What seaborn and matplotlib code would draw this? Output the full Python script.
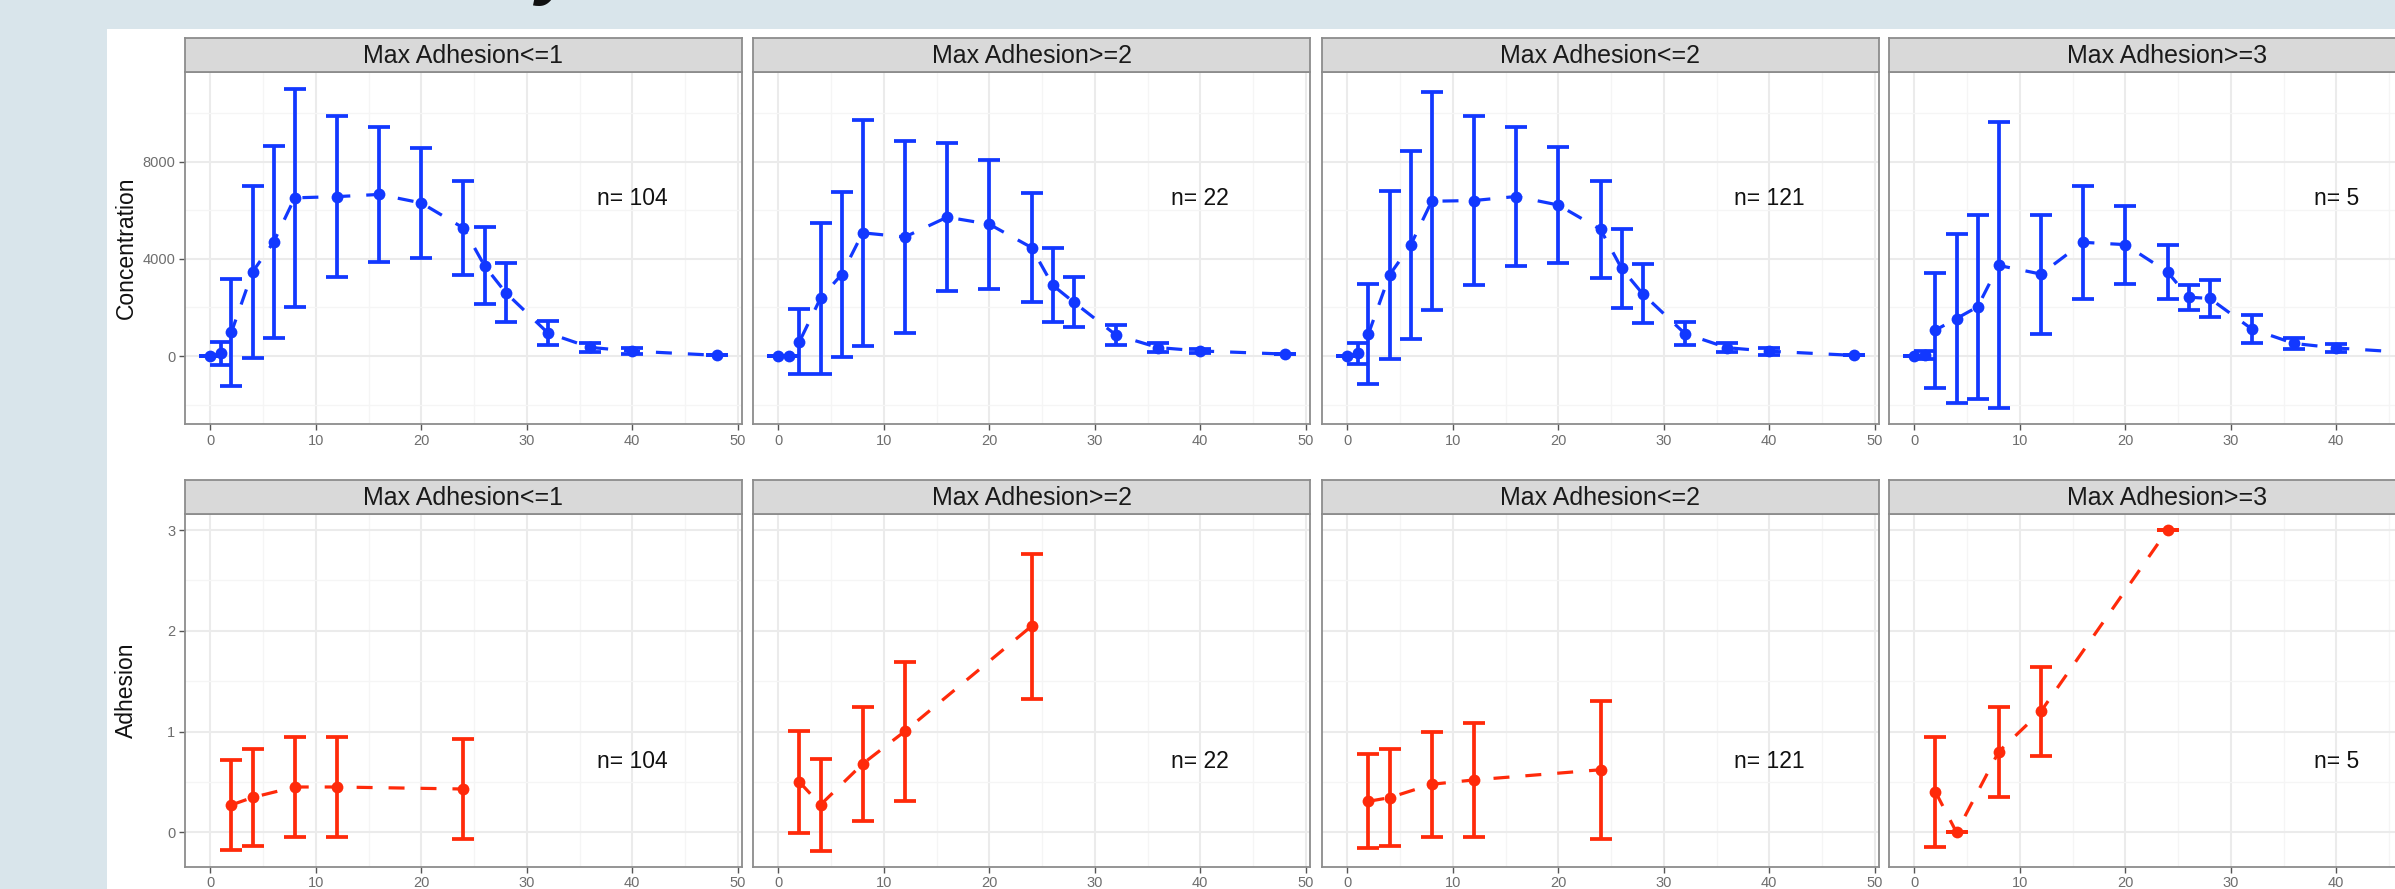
import numpy as np
import pandas as pd
import matplotlib
matplotlib.use("Agg")
import matplotlib.pyplot as plt
from matplotlib.patches import Rectangle
from matplotlib.ticker import MultipleLocator, FixedLocator
import seaborn as sns

# ---------------- data ----------------
groups = ["Max Adhesion<=1", "Max Adhesion>=2", "Max Adhesion<=2", "Max Adhesion>=3"]
n_labels = ["n= 104", "n= 22", "n= 121", "n= 5"]

time_conc = [0, 1, 2, 4, 6, 8, 12, 16, 20, 24, 26, 28, 32, 36, 40, 48]
conc_mean_le1 = [0, 110, 980, 3460, 4690, 6510, 6560, 6650, 6300, 5265, 3710, 2610, 950, 355, 205, 30]
conc_sd_le1 = [0, 465, 2200, 3530, 3960, 4490, 3310, 2775, 2270, 1925, 1580, 1220, 480, 200, 115, 0]
conc_mean_ge2 = [0, 0, 590, 2380, 3355, 5070, 4900, 5715, 5425, 4466, 2918, 2220, 870, 350, 210, 82]
conc_sd_ge2 = [0, 0, 1335, 3100, 3405, 4650, 3950, 3035, 2660, 2247, 1521, 1042, 410, 180, 100, 0]
conc_mean_le2 = [0, 110, 910, 3335, 4562, 6370, 6400, 6565, 6215, 5210, 3605, 2560, 925, 343, 200, 27]
conc_sd_le2 = [0, 445, 2070, 3450, 3877, 4490, 3473, 2843, 2377, 1993, 1610, 1212, 466, 192, 137, 0]
conc_mean_ge3 = [0, 40, 1068, 1545, 2025, 3730, 3373, 4680, 4585, 3460, 2420, 2373, 1110, 518, 333, 110]
conc_sd_ge3 = [0, 150, 2370, 3460, 3775, 5885, 2445, 2336, 1603, 1096, 520, 774, 589, 226, 158, 60]

time_adh = [2, 4, 8, 12, 24]
adh_mean_le1 = [0.272, 0.346, 0.45, 0.45, 0.43]
adh_sd_le1 = [0.447, 0.478, 0.50, 0.50, 0.50]
adh_mean_ge2 = [0.50, 0.273, 0.68, 1.003, 2.046]
adh_sd_ge2 = [0.51, 0.455, 0.567, 0.692, 0.72]
adh_mean_le2 = [0.308, 0.344, 0.477, 0.52, 0.621]
adh_sd_le2 = [0.467, 0.48, 0.52, 0.563, 0.687]
adh_mean_ge3 = [0.402, 0.0, 0.80, 1.20, 3.0]
adh_sd_ge3 = [0.548, 0.0, 0.448, 0.445, 0.0]

conc_means = [conc_mean_le1, conc_mean_ge2, conc_mean_le2, conc_mean_ge3]
conc_sds = [conc_sd_le1, conc_sd_ge2, conc_sd_le2, conc_sd_ge3]
adh_means = [adh_mean_le1, adh_mean_ge2, adh_mean_le2, adh_mean_ge3]
adh_sds = [adh_sd_le1, adh_sd_ge2, adh_sd_le2, adh_sd_ge3]

x_ticks = [0, 10, 20, 30, 40, 50]

# ---------------- style ----------------
sns.set_theme(style="white")
plt.rcParams["font.family"] = ["Liberation Sans", "DejaVu Sans"]

BLUE = "#1238FF"
RED = "#FF2A0A"
BG = "#D9E5EB"

W, H = 2395, 889
fig = plt.figure(figsize=(W / 100, H / 100), dpi=100, facecolor=BG)
fig.patches.append(Rectangle((107 / W, 0), 1.0, (H - 29) / H, transform=fig.transFigure,
                             facecolor="white", edgecolor="none", zorder=-10))
# cut-off slide title (only a descender is visible)
fig.text(556 / W, 1 + 9 / H, "y", fontsize=52, fontweight="bold", color="#111111",
         ha="center", va="baseline", style="italic")

lefts = [185, 753, 1322, 1889]
pw = 557
rows = [  # (strip top, panel top, panel bottom)
    (38, 72, 424.3),
    (480, 514, 866.7),
]


def px_rect(x0, top, width, bottom):
    return [x0 / W, (H - bottom) / H, width / W, (bottom - top) / H]


def style_axes(ax, ylim, major, minor, show_y, last):
    ax.set_xlim(-2.4, 50.4)
    ax.set_ylim(*ylim)
    ticks = [t for t in x_ticks if not (last and t >= 50)]
    ax.xaxis.set_major_locator(FixedLocator(ticks))
    ax.xaxis.set_minor_locator(MultipleLocator(5))
    ax.yaxis.set_major_locator(MultipleLocator(major))
    ax.yaxis.set_minor_locator(MultipleLocator(minor))
    ax.grid(True, which="major", color="#EBEBEB", lw=1.5, zorder=0)
    ax.grid(True, which="minor", color="#F5F5F5", lw=0.9, zorder=0)
    ax.set_axisbelow(True)
    for s in ax.spines.values():
        s.set_color("#8C8C8C")
        s.set_linewidth(1.3)
    ax.tick_params(axis="both", which="major", length=4, width=1, color="#555555",
                   labelsize=10.5, labelcolor="#6E6E6E", pad=3, direction="out",
                   bottom=True, left=True)
    ax.tick_params(which="minor", length=0)
    if not show_y:
        ax.tick_params(axis="y", labelleft=False, left=False)
    ax.set_xlabel("")
    ax.set_ylabel("")


def strip(x0, top, bottom, label):
    sax = fig.add_axes(px_rect(x0, top, pw, bottom))
    sax.set_facecolor("#D9D9D9")
    sax.set_xticks([])
    sax.set_yticks([])
    for s in sax.spines.values():
        s.set_color("#8C8C8C")
        s.set_linewidth(1.3)
    sax.text(0.5, 0.47, label, ha="center", va="center", fontsize=18, color="#1A1A1A",
             transform=sax.transAxes)


def draw_row(row, times, means, sds, color, ylim, major, minor, ylabel, ann_y):
    st, pt, pb = rows[row]
    for i in range(4):
        ax = fig.add_axes(px_rect(lefts[i], pt, pw, pb))
        ax.set_facecolor("white")
        df = pd.DataFrame({"time": times, "mean": means[i], "sd": sds[i]})
        ax.errorbar(df["time"], df["mean"], yerr=df["sd"], fmt="none", ecolor=color,
                    elinewidth=2.7, capsize=7.6, capthick=2.7, zorder=3)
        sns.lineplot(data=df, x="time", y="mean", ax=ax, color=color, estimator=None,
                     sort=False, linewidth=2.3, linestyle=(0, (5, 5)), marker="o",
                     markersize=8.5, markeredgewidth=0, zorder=4)
        ax.text(40, ann_y, n_labels[i], ha="center", va="center", fontsize=16.5,
                color="#111111")
        style_axes(ax, ylim, major, minor, show_y=(i == 0), last=(i == 3))
        strip(lefts[i], st, pt, groups[i])
    fig.text(126 / W, 1 - ((pt + pb) / 2) / H, ylabel, rotation=90, ha="center",
             va="center", fontsize=16.5, color="#111111")


draw_row(0, time_conc, conc_means, conc_sds, BLUE, (-2808, 11688), 4000, 2000,
         "Concentration", 6500)
draw_row(1, time_adh, adh_means, adh_sds, RED, (-0.341, 3.159), 1, 0.5,
         "Adhesion", 0.70)

fig.savefig("out.png", dpi=100, facecolor=BG)
